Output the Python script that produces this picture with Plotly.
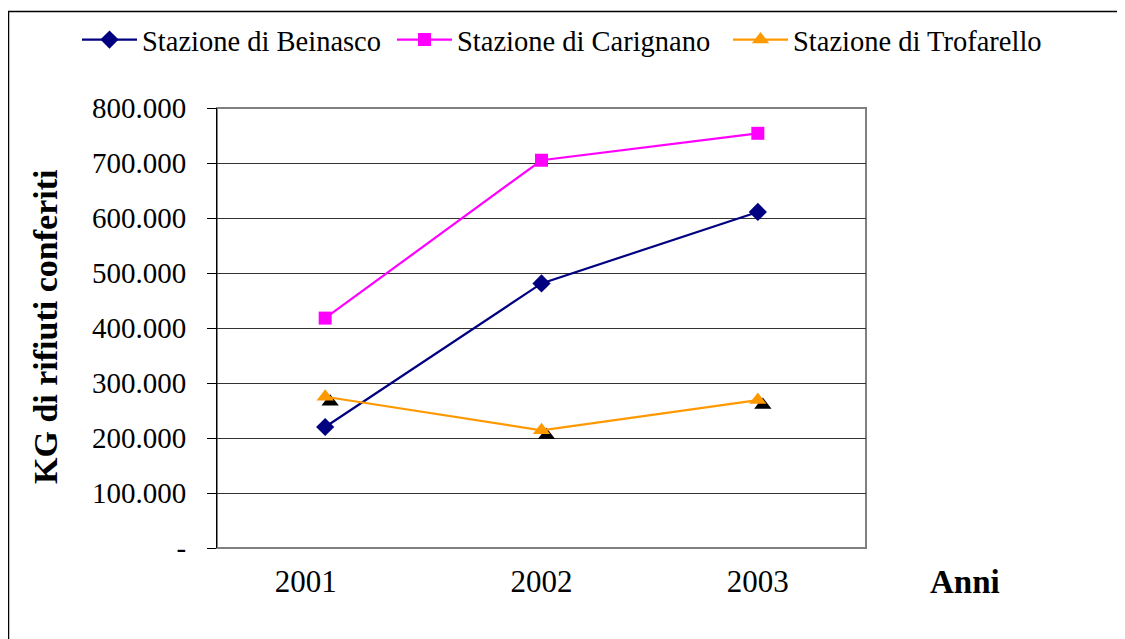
import plotly.graph_objects as go

years = ["2001", "2002", "2003"]
beinasco = [220000, 481000, 611000]
carignano = [418000, 705000, 754000]
trofarello = [275000, 214000, 269000]
y_ticks = [0, 100000, 200000, 300000, 400000, 500000, 600000, 700000, 800000]
y_labels = ["-", "100.000", "200.000", "300.000", "400.000", "500.000", "600.000", "700.000", "800.000"]

FONT = "Liberation Serif, Times New Roman, serif"
OFF = 8  # page body margin
W, H = 1125 - OFF, 639 - OFF
PL, PR, PT, PB = 217 - OFF, 866 - OFF, 108 - OFF, 548 - OFF  # plot area in figure px
PW, PH = PR - PL, PB - PT
dx = 5 / (PW / 3)
dy = 5 / PH * 800000


def px(xp):  # page x -> paper
    return (xp - OFF - PL) / PW


def py(yp):  # page y -> paper
    return (PB - (yp - OFF)) / PH


# first label sits slightly left of its category in the original
x_ticktext = [years[0] + "\u00a0" * 5] + years[1:]

fig = go.Figure()
fig.add_trace(go.Scatter(x=years, y=[None, None, None], mode="markers", showlegend=False, hoverinfo="skip"))
fig.add_trace(go.Scatter(x=years, y=trofarello, mode="markers", xaxis="x2", yaxis="y2",
                         marker=dict(symbol="triangle-up", size=15, color="black"),
                         showlegend=False, hoverinfo="skip"))
fig.add_trace(go.Scatter(x=years, y=beinasco, name="Stazione di Beinasco", mode="lines+markers",
                         xaxis="x3", yaxis="y3", legend="legend",
                         line=dict(color="#000080", width=2.2),
                         marker=dict(symbol="diamond", size=14, color="#000080")))
fig.add_trace(go.Scatter(x=years, y=carignano, name="Stazione di Carignano", mode="lines+markers",
                         xaxis="x3", yaxis="y3", legend="legend2",
                         line=dict(color="#FF00FF", width=2.2),
                         marker=dict(symbol="square", size=13, color="#FF00FF")))
fig.add_trace(go.Scatter(x=years, y=trofarello, name="Stazione di Trofarello", mode="lines+markers",
                         xaxis="x3", yaxis="y3", legend="legend3",
                         line=dict(color="#FF9900", width=2.2),
                         marker=dict(symbol="triangle-up", size=15, color="#FF9900")))

leg_common = dict(orientation="h", xanchor="left", yanchor="middle", font=dict(size=28.5),
                  itemwidth=55, bgcolor="rgba(0,0,0,0)")

fig.update_layout(
    width=W, height=H,
    margin=dict(l=PL, r=W - PR, t=PT, b=H - PB, autoexpand=False),
    paper_bgcolor="white", plot_bgcolor="rgba(0,0,0,0)",
    font=dict(family=FONT, size=28, color="black"),
    xaxis=dict(type="category", categoryorder="array", categoryarray=years, range=[-0.5, 2.5],
               tickvals=years, ticktext=x_ticktext,
               showgrid=False, showline=False, zeroline=False,
               ticks="", tickfont=dict(size=31), ticklabelstandoff=12),
    yaxis=dict(range=[0, 800000], tickvals=y_ticks, ticktext=y_labels,
               showgrid=True, gridcolor="#333333", gridwidth=1,
               showline=True, linecolor="black", linewidth=1, layer="above traces",
               ticks="outside", ticklen=9, tickcolor="black", tickfont=dict(size=29),
               ticklabelstandoff=15, zeroline=False),
    xaxis2=dict(type="category", categoryorder="array", categoryarray=years,
                range=[-0.5 - dx, 2.5 - dx], visible=False, anchor="y2", domain=[0, 1]),
    yaxis2=dict(range=[dy, 800000 + dy], visible=False, anchor="x2", domain=[0, 1]),
    xaxis3=dict(type="category", categoryorder="array", categoryarray=years,
                range=[-0.5, 2.5], visible=False, anchor="y3", domain=[0, 1]),
    yaxis3=dict(range=[0, 800000], visible=False, anchor="x3", domain=[0, 1]),
    legend=dict(x=px(77), y=py(40), **leg_common),
    legend2=dict(x=px(392), y=py(40), **leg_common),
    legend3=dict(x=px(728), y=py(40), **leg_common),
    showlegend=True,
)

fig.add_shape(type="rect", xref="paper", yref="paper", x0=0, x1=1, y0=0, y1=1,
              line=dict(color="#808080", width=2), fillcolor="rgba(0,0,0,0)", layer="between")

fig.add_annotation(text="<b>KG di rifiuti conferiti</b>", xref="paper", yref="paper",
                   x=px(45), y=py(327), textangle=-90, showarrow=False,
                   font=dict(size=34, family=FONT), xanchor="center", yanchor="middle")
fig.add_annotation(text="<b>Anni</b>", xref="paper", yref="paper", x=px(965), y=py(582),
                   showarrow=False, font=dict(size=33, family=FONT), xanchor="center", yanchor="middle")

# outer frame
fig.add_shape(type="rect", xref="paper", yref="paper",
              x0=px(8.5), x1=px(1140), y0=py(660), y1=py(11.5),
              line=dict(color="black", width=1.5), fillcolor="rgba(0,0,0,0)", layer="below")

fig.write_html("out.html")
